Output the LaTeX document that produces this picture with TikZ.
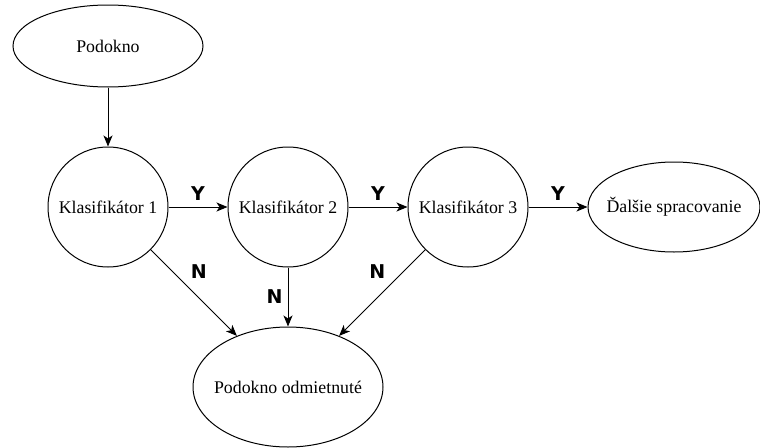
\documentclass[tikz,border=0pt]{standalone}
\usepackage{fontspec}
\setmainfont{Liberation Serif}
\newfontfamily\labelfont{DejaVu Sans}
\usetikzlibrary{shapes.geometric,arrows.meta}
\begin{document}
\begin{tikzpicture}[x=1pt,y=-1pt]
        \tikzstyle{circle_style} = [circle,draw=black,line width=1pt,minimum size=120pt,inner sep=0pt,font=\fontsize{17.8}{20}\selectfont]
        \tikzstyle{ellipse_style} = [ellipse,draw=black,line width=1pt,inner xsep=-20pt,inner ysep=0pt,font=\fontsize{17.8}{20}\selectfont]
        \tikzstyle{edge_style} = [draw=black,line width=1pt,-{Stealth[length=11pt,width=9pt,inset=3pt]}]
        \tikzstyle{label_style} = [font=\labelfont\bfseries\fontsize{19}{22}\selectfont,inner sep=2pt]
        \useasboundingbox (0,0) rectangle (760,447);
        \node[ellipse_style,minimum width=190pt,minimum height=82pt] (win) at (108,46) {Podokno};
        \node[circle_style] (k1) at (108,207) {Klasifikátor 1};
        \node[circle_style] (k2) at (288,207) {Klasifikátor 2};
        \node[circle_style] (k3) at (468,207) {Klasifikátor 3};
        \node[ellipse_style,minimum width=172pt,minimum height=90pt] (next) at (674,207) {Ďalšie spracovanie};
        \node[ellipse_style,minimum width=190pt,minimum height=120pt] (rej) at (288,387) {Podokno odmietnuté};
        \draw[edge_style]  (win) -- (k1);
        \draw[edge_style]  (k1) -- (k2) node[midway, above, label_style, yshift=4pt] {Y};
        \draw[edge_style]  (k2) -- (k3) node[midway, above, label_style, yshift=4pt] {Y};
        \draw[edge_style]  (k3) -- (next) node[midway, above, label_style, yshift=4pt] {Y};
        \draw[edge_style]  (k1) -- (rej) node[pos=.25, right=16pt, label_style] {N};
        \draw[edge_style]  (k2) -- (rej) node[midway, left=3pt, label_style] {N};
        \draw[edge_style]  (k3) -- (rej) node[pos=.25, left=16pt, label_style] {N};
      \end{tikzpicture}
\end{document}
